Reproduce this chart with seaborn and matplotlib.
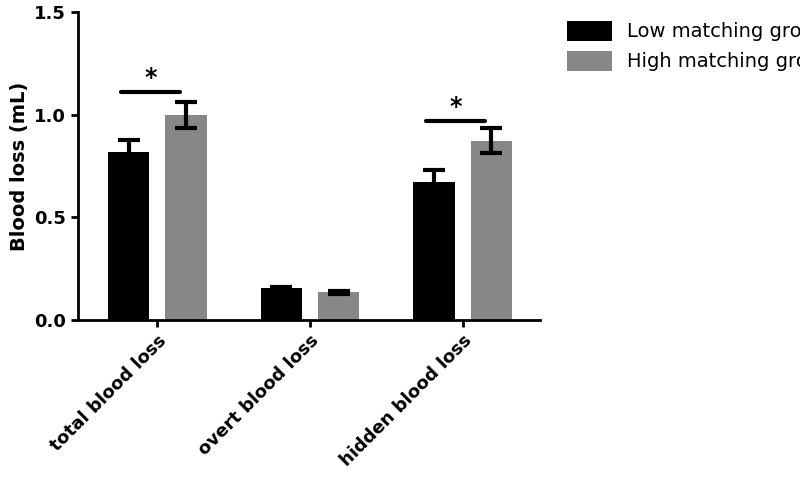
import pandas as pd
import matplotlib.pyplot as plt
import seaborn as sns

categories = ["total blood loss", "overt blood loss", "hidden blood loss"]
groups = ["Low matching group", "High matching group"]
low_mean = [0.82, 0.155, 0.675]
low_err = [0.06, 0.008, 0.058]
high_mean = [1.0, 0.135, 0.875]
high_err = [0.065, 0.008, 0.063]
sig_y = [1.11, None, 0.97]

df = pd.DataFrame({
    "Category": categories * 2,
    "Group": [groups[0]] * 3 + [groups[1]] * 3,
    "Value": low_mean + high_mean,
})

fig = plt.figure(figsize=(8, 4.96), dpi=100)
ax = fig.add_axes([0.0975, 0.355, 0.578, 0.62])
palette = {groups[0]: "#000000", groups[1]: "#878787"}
sns.barplot(data=df, x="Category", y="Value", hue="Group", palette=palette,
            width=0.75, gap=0.28, ax=ax, errorbar=None, saturation=1)

# error bars on bar centers
for cont, errs in zip(ax.containers, [low_err, high_err]):
    for bar, e in zip(cont, errs):
        x = bar.get_x() + bar.get_width() / 2
        ax.errorbar(x, bar.get_height(), yerr=e, fmt="none", ecolor="black",
                    elinewidth=3, capsize=8, capthick=3)

# significance markers
for i, y in enumerate(sig_y):
    if y is None:
        continue
    lo = ax.containers[0][i]
    hi = ax.containers[1][i]
    x1 = lo.get_x() + lo.get_width() / 2 - 0.05
    x2 = hi.get_x() + hi.get_width() / 2 - 0.04
    ax.plot([x1, x2], [y, y], color="black", lw=3, solid_capstyle="round")
    ax.text((x1 + x2) / 2, y + 0.01, "*", ha="center", va="bottom",
            fontsize=17, fontweight="bold")

ax.set_ylim(0, 1.5)
ax.set_yticks([0, 0.5, 1.0, 1.5])
ax.set_yticklabels(["0.0", "0.5", "1.0", "1.5"], fontsize=13, fontweight="bold")
ax.set_ylabel("Blood loss (mL)", fontsize=14, fontweight="bold")
ax.set_xlabel("")
ax.set_xlim(-0.52, 2.51)
ax.set_xticks(range(3))
ax.set_xticklabels(categories, rotation=45, ha="right", rotation_mode="anchor",
                   fontsize=13, fontweight="bold")
ax.tick_params(axis="both", width=2, length=5)
sns.despine(ax=ax)
for s in ["left", "bottom"]:
    ax.spines[s].set_linewidth(2)

ax.legend(loc="upper left", bbox_to_anchor=(1.02, 1.03), frameon=False,
          fontsize=14, handlelength=2.3, handleheight=1.2, labelspacing=0.5)

fig.savefig("out.png", dpi=100)
